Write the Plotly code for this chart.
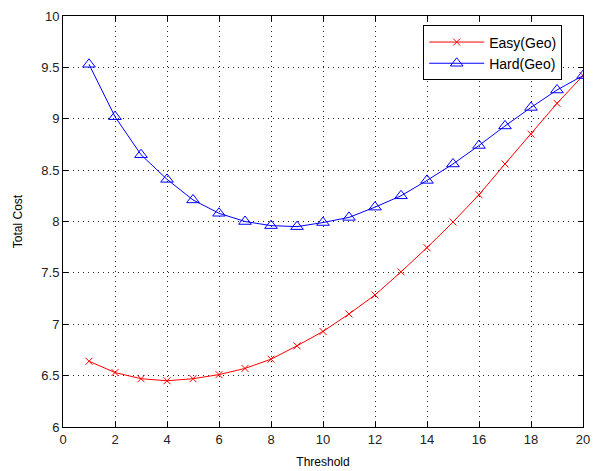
import plotly.graph_objects as go

threshold = list(range(1, 21))
easy_geo = [6.64, 6.53, 6.47, 6.45, 6.47, 6.51, 6.57, 6.66, 6.79, 6.93,
            7.10, 7.285, 7.51, 7.745, 7.995, 8.26, 8.56, 8.85, 9.15, 9.42]
hard_geo = [9.53, 9.02, 8.65, 8.41, 8.21, 8.08, 8.00, 7.96, 7.95, 7.99,
            8.04, 8.14, 8.25, 8.40, 8.56, 8.74, 8.93, 9.11, 9.28, 9.42]
x_ticks = list(range(0, 21, 2))
y_ticks = [6, 6.5, 7, 7.5, 8, 8.5, 9, 9.5, 10]

fig = go.Figure()
fig.add_trace(go.Scatter(
    x=threshold, y=easy_geo, name="Easy(Geo)", mode="lines+markers",
    line=dict(color="#ff0000", width=1),
    marker=dict(symbol="x-thin-open", size=7, color="#ff0000",
                line=dict(color="#ff0000", width=1)),
))
fig.add_trace(go.Scatter(
    x=threshold, y=hard_geo, name="Hard(Geo)", mode="lines+markers",
    line=dict(color="#0000ff", width=1),
    marker=dict(symbol="triangle-up-open", size=11, color="#0000ff",
                line=dict(color="#0000ff", width=1)),
))

axis_common = dict(
    showline=True, linecolor="black", linewidth=1, mirror="ticks",
    ticks="inside", ticklen=5, tickcolor="black",
    showgrid=True, gridcolor="#222222", griddash="1px,4px", gridwidth=1,
    zeroline=False, automargin=False,
    tickfont=dict(family="Liberation Sans, Arial, sans-serif", size=13, color="#222222"),
    title_font=dict(family="Liberation Sans, Arial, sans-serif", size=12, color="black"),
)

fig.update_xaxes(range=[0, 20], tickvals=x_ticks, ticktext=[str(t) for t in x_ticks],
                 title_text="Threshold", title_standoff=12, **axis_common)
fig.update_yaxes(range=[6, 10], tickvals=y_ticks, ticktext=[f"{t:g}" for t in y_ticks],
                 title_text="Total Cost", title_standoff=16, **axis_common)

fig.update_layout(
    width=593, height=471,
    margin=dict(l=63, r=10, t=16, b=44),
    paper_bgcolor="white", plot_bgcolor="white",
    font=dict(family="Liberation Sans, Arial, sans-serif", size=12, color="black"),
    legend=dict(
        x=0.96, y=0.977, xanchor="right", yanchor="top",
        bgcolor="white", bordercolor="black", borderwidth=1,
        font=dict(size=14, color="black"),
        tracegroupgap=0, itemwidth=55,
    ),
    showlegend=True,
)

fig.write_html("out.html")
